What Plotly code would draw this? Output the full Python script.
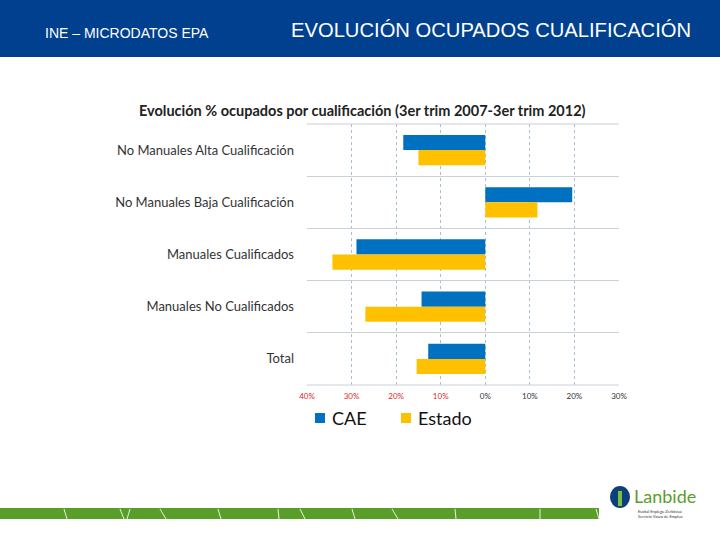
import plotly.graph_objects as go

categories = ["No Manuales Alta Cualificación", "No Manuales Baja Cualificación",
              "Manuales Cualificados", "Manuales No Cualificados", "Total"]
cae = [-18.4, 19.5, -28.9, -14.3, -12.8]
estado = [-15.0, 11.7, -34.3, -26.9, -15.4]
tick_vals = [-40, -30, -20, -10, 0, 10, 20, 30]
tick_text = ["<span style='color:#d9282e'>40%</span>", "<span style='color:#d9282e'>30%</span>",
             "<span style='color:#d9282e'>20%</span>", "<span style='color:#d9282e'>10%</span>",
             "0%", "10%", "20%", "30%"]
series_names = ["CAE", "Estado"]
series_colors = ["#0070c0", "#ffc000"]

W, H = 720, 540
def px(x): return x / W
def py(y): return 1 - y / H

fig = go.Figure()
for name, vals, col in zip(series_names, [cae, estado], series_colors):
    fig.add_trace(go.Bar(y=categories, x=vals, name=name, orientation="h",
                         marker=dict(color=col, line=dict(width=0))))

fig.update_layout(
    width=W, height=H, margin=dict(l=0, r=0, t=0, b=0, autoexpand=False),
    paper_bgcolor="white", plot_bgcolor="white",
    barmode="group", bargap=0.42, bargroupgap=0,
    font=dict(family="Lato", color="#222"),
    xaxis=dict(domain=[px(307), px(619)], range=[-40, 30], tickvals=tick_vals, ticktext=tick_text,
               showgrid=True, gridcolor="#a9bcd0", griddash="dot", gridwidth=1,
               zeroline=False, showline=False, ticks="", tickfont=dict(size=8, family="Lato", color="#333"),
               ticklabelstandoff=5, fixedrange=True, automargin=False),
    yaxis=dict(domain=[py(385), py(124)], autorange="reversed", tickson="boundaries",
               showgrid=True, gridcolor="#c8d0d8", gridwidth=1, showline=False, zeroline=False,
               ticks="", ticklabelstandoff=12, tickfont=dict(size=13, family="Lato", color="#333"),
               fixedrange=True, automargin=False),
    showlegend=False,
)

shapes = [
    dict(type="rect", xref="paper", yref="paper", x0=0, x1=1, y0=py(57), y1=1,
         fillcolor="#00408f", line=dict(width=0), layer="below"),
    dict(type="rect", xref="paper", yref="paper", x0=0, x1=px(599), y0=py(519), y1=py(508),
         fillcolor="#5a9e2a", line=dict(width=0)),
    dict(type="line", xref="paper", yref="paper", x0=px(307), x1=px(619), y0=py(124), y1=py(124),
         line=dict(color="#c8d0d8", width=1)),
    dict(type="line", xref="paper", yref="paper", x0=px(307), x1=px(619), y0=py(385), y1=py(385),
         line=dict(color="#c8d0d8", width=1)),
]
# decorative white outlines in the green band
for xs in [(64, 67), (120, 124), (130, 127), (160, 166), (218, 221), (278, 279), (300, 305),
           (352, 355), (392, 398), (455, 456), (540, 540), (596, 599)]:
    shapes.append(dict(type="line", xref="paper", yref="paper", x0=px(xs[0]), x1=px(xs[1]),
                       y0=py(509), y1=py(519), line=dict(color="#e8f2dc", width=1)))
# logo circle
shapes.append(dict(type="circle", xref="paper", yref="paper", x0=px(610), x1=px(630),
                   y0=py(508), y1=py(486), fillcolor="#0d3f7a", line=dict(width=0)))
shapes.append(dict(type="rect", xref="paper", yref="paper", x0=px(618), x1=px(622),
                   y0=py(506), y1=py(491), fillcolor="#7bbf3a", line=dict(width=0)))

annotations = [
    dict(text="INE – MICRODATOS EPA", x=px(43), y=py(33), xref="paper", yref="paper",
         xanchor="left", yanchor="middle", showarrow=False,
         font=dict(family="Liberation Sans", size=14, color="white")),
    dict(text="EVOLUCIÓN OCUPADOS CUALIFICACIÓN", x=px(289), y=py(30), xref="paper", yref="paper",
         xanchor="left", yanchor="middle", showarrow=False,
         font=dict(family="Liberation Sans", size=20.2, color="white")),
    dict(text="<b>Evolución % ocupados por cualificación (3er trim 2007-3er trim 2012)</b>",
         x=px(362), y=py(111), xref="paper", yref="paper", xanchor="center", yanchor="middle",
         showarrow=False, font=dict(family="Lato", size=14.5, color="#222")),
    dict(text="Lanbide", x=px(632), y=py(496), xref="paper", yref="paper", xanchor="left",
         yanchor="middle", showarrow=False, font=dict(family="Lato", size=18, color="#5a9e2a")),
    dict(text="Euskal Enplegu Zerbitzua<br>Servicio Vasco de Empleo", x=px(636), y=py(514),
         xref="paper", yref="paper", xanchor="left", yanchor="middle", showarrow=False, align="left",
         font=dict(family="Lato", size=4, color="#333")),
]

# manual legend (squares + labels)
legend_x = [315, 401]
for lx, name, col in zip(legend_x, series_names, series_colors):
    shapes.append(dict(type="rect", xref="paper", yref="paper", x0=px(lx), x1=px(lx + 10),
                       y0=py(423), y1=py(413), fillcolor=col, line=dict(width=0)))
    annotations.append(dict(text=name, x=px(lx + 15), y=py(418), xref="paper", yref="paper",
                            xanchor="left", yanchor="middle", showarrow=False,
                            font=dict(family="Lato", size=18, color="#111")))

fig.update_layout(shapes=shapes, annotations=annotations)

fig.write_html("out.html", post_script="document.body.style.margin='0';document.body.style.overflow='hidden';")
